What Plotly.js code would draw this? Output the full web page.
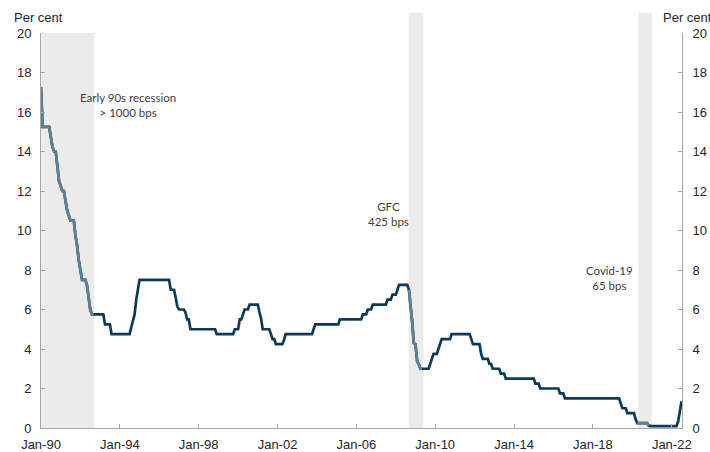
<!DOCTYPE html>
<html>
<head>
<meta charset="utf-8">
<script src="https://cdn.plot.ly/plotly-3.0.1.min.js"></script>
<style>html,body{margin:0;padding:0;background:#fff;}#chart{width:710px;height:452px;}</style>
</head>
<body>
<div id="chart"></div>
<script>
// Monthly cash rate, per cent, Jan-1990 .. Jul-2022
const startYear = 1990;
const cashRate = [
  17.25,15.25,15.25,15.25,15.25,15.25,14.75,14.25,14.0,14.0,13.25,12.5,   // 1990
  12.25,12.0,12.0,11.5,11.0,10.75,10.5,10.5,10.5,9.75,9.25,8.5,           // 1991
  8.0,7.5,7.5,7.5,7.25,6.5,6.0,5.75,5.75,5.75,5.75,5.75,                  // 1992
  5.75,5.75,5.75,5.25,5.25,5.25,5.25,4.75,4.75,4.75,4.75,4.75,            // 1993
  4.75,4.75,4.75,4.75,4.75,4.75,4.75,5.1,5.5,5.75,6.5,7.1,                // 1994
  7.5,7.5,7.5,7.5,7.5,7.5,7.5,7.5,7.5,7.5,7.5,7.5,                        // 1995
  7.5,7.5,7.5,7.5,7.5,7.5,7.5,7.0,7.0,7.0,6.6,6.15,                       // 1996
  6.0,6.0,6.0,6.0,5.85,5.5,5.5,5.0,5.0,5.0,5.0,5.0,                       // 1997
  5.0,5.0,5.0,5.0,5.0,5.0,5.0,5.0,5.0,5.0,5.0,4.75,                       // 1998
  4.75,4.75,4.75,4.75,4.75,4.75,4.75,4.75,4.75,4.75,5.0,5.0,              // 1999
  5.0,5.5,5.5,5.75,6.0,6.0,6.0,6.25,6.25,6.25,6.25,6.25,                  // 2000
  6.25,5.85,5.55,5.0,5.0,5.0,5.0,5.0,4.75,4.5,4.5,4.25,                   // 2001
  4.25,4.25,4.25,4.25,4.45,4.75,4.75,4.75,4.75,4.75,4.75,4.75,            // 2002
  4.75,4.75,4.75,4.75,4.75,4.75,4.75,4.75,4.75,4.75,5.0,5.25,             // 2003
  5.25,5.25,5.25,5.25,5.25,5.25,5.25,5.25,5.25,5.25,5.25,5.25,            // 2004
  5.25,5.25,5.5,5.5,5.5,5.5,5.5,5.5,5.5,5.5,5.5,5.5,                      // 2005
  5.5,5.5,5.5,5.5,5.75,5.75,5.75,6.0,6.0,6.0,6.25,6.25,                   // 2006
  6.25,6.25,6.25,6.25,6.25,6.25,6.25,6.5,6.5,6.5,6.75,6.75,               // 2007
  6.75,7.0,7.25,7.25,7.25,7.25,7.25,7.25,7.0,6.25,5.35,4.3,               // 2008
  4.25,3.35,3.25,3.0,3.0,3.0,3.0,3.0,3.0,3.25,3.5,3.75,                   // 2009
  3.75,3.75,4.0,4.25,4.5,4.5,4.5,4.5,4.5,4.5,4.75,4.75,                   // 2010
  4.75,4.75,4.75,4.75,4.75,4.75,4.75,4.75,4.75,4.75,4.5,4.25,             // 2011
  4.25,4.25,4.25,4.25,3.75,3.5,3.5,3.5,3.5,3.25,3.25,3.0,                 // 2012
  3.0,3.0,3.0,3.0,2.75,2.75,2.75,2.5,2.5,2.5,2.5,2.5,                     // 2013
  2.5,2.5,2.5,2.5,2.5,2.5,2.5,2.5,2.5,2.5,2.5,2.5,                        // 2014
  2.5,2.25,2.25,2.25,2.0,2.0,2.0,2.0,2.0,2.0,2.0,2.0,                     // 2015
  2.0,2.0,2.0,2.0,1.75,1.75,1.75,1.5,1.5,1.5,1.5,1.5,                     // 2016
  1.5,1.5,1.5,1.5,1.5,1.5,1.5,1.5,1.5,1.5,1.5,1.5,                        // 2017
  1.5,1.5,1.5,1.5,1.5,1.5,1.5,1.5,1.5,1.5,1.5,1.5,                        // 2018
  1.5,1.5,1.5,1.5,1.5,1.25,1.0,1.0,1.0,0.75,0.75,0.75,                    // 2019
  0.75,0.75,0.45,0.25,0.25,0.25,0.25,0.25,0.25,0.25,0.12,0.1,             // 2020
  0.1,0.1,0.1,0.1,0.1,0.1,0.1,0.1,0.1,0.1,0.1,0.1,                        // 2021
  0.1,0.1,0.1,0.1,0.35,0.85,1.35                                          // 2022
];

// Recession shading periods
const recessionStart = ['1990-01-01', '2008-08-25', '2020-04-20'];
const recessionEnd   = ['1992-09-15', '2009-05-28', '2020-12-25'];
// Months of the line drawn in the lighter colour
const lightFrom = ['1990-01-01', '2008-09-01', '2020-04-01'];
const lightTo   = ['1992-09-01', '2009-05-01', '2020-11-01'];

const recessionLabels = ['Early 90s recession<br>> 1000 bps', 'GFC<br>425 bps', 'Covid-19<br>65 bps'];
const labelX = ['1994-05-28', '2007-08-12', '2018-10-28'];
const labelY = [16.33, 10.86, 7.59];

function pad(n){ return n < 10 ? '0' + n : '' + n; }
const dates = cashRate.map((v, i) => (startYear + Math.floor(i / 12)) + '-' + pad(i % 12 + 1) + '-01');

const DARK = '#0c3a5b';
const LIGHT = '#5e8095';
const FONT = 'Arial, Liberation Sans, sans-serif';

const traces = [{
  x: dates, y: cashRate, type: 'scatter', mode: 'lines',
  line: {color: DARK, width: 2.7}, hoverinfo: 'skip', showlegend: false
}];
for (let k = 0; k < lightFrom.length; k++) {
  const xs = [], ys = [];
  dates.forEach((d, i) => { if (d >= lightFrom[k] && d <= lightTo[k]) { xs.push(d); ys.push(cashRate[i]); } });
  traces.push({x: xs, y: ys, type: 'scatter', mode: 'lines',
    line: {color: LIGHT, width: 2.7}, hoverinfo: 'skip', showlegend: false});
}
// invisible copy to activate right axis
traces.push({x: dates, y: cashRate, yaxis: 'y2', type: 'scatter', mode: 'lines',
  line: {color: 'rgba(0,0,0,0)', width: 0}, hoverinfo: 'skip', showlegend: false});

const shapes = recessionStart.map((s, k) => ({
  type: 'rect', xref: 'x', yref: 'paper', x0: s, x1: recessionEnd[k],
  y0: 0, y1: k === 0 ? 1 : 1.051, fillcolor: '#ebebeb', line: {width: 0}, layer: 'below'
}));

const annotations = recessionLabels.map((t, k) => ({
  text: t, xref: 'x', yref: 'y', x: labelX[k], y: labelY[k], showarrow: false,
  xanchor: 'center', yanchor: 'middle', align: 'center',
  font: {family: 'Lato, Carlito, Calibri, sans-serif', size: 11.5, color: '#404040'}
}));
annotations.push({text: 'Per cent', xref: 'paper', yref: 'paper', x: -0.045, y: 1.038,
  xanchor: 'left', yanchor: 'middle', showarrow: false, font: {family: FONT, size: 13, color: '#262626'}});
annotations.push({text: 'Per cent', xref: 'paper', yref: 'paper', x: 0.967, y: 1.038,
  xanchor: 'left', yanchor: 'middle', showarrow: false, font: {family: FONT, size: 13, color: '#262626'}});

const axisCommon = {
  showgrid: false, zeroline: false, showline: true, linecolor: '#a6a6a6', linewidth: 1,
  ticks: 'inside', ticklen: 4, tickcolor: '#a6a6a6', tickfont: {family: FONT, size: 13, color: '#262626'}
};

const layout = {
  width: 710, height: 452,
  margin: {l: 41, r: 28, t: 33, b: 24},
  paper_bgcolor: '#fff', plot_bgcolor: '#fff',
  showlegend: false,
  xaxis: Object.assign({}, axisCommon, {
    type: 'date', range: ['1990-01-01', '2022-07-10'],
    tickmode: 'linear', tick0: '1990-01-01', dtick: 'M48', tickformat: '%b-%y',
    ticklabelstandoff: 4
  }),
  yaxis: Object.assign({}, axisCommon, {range: [0, 20], dtick: 2, tickmode: 'linear', tick0: 0,
    ticklabelstandoff: 6}),
  yaxis2: Object.assign({}, axisCommon, {range: [0, 20], dtick: 2, tickmode: 'linear', tick0: 0,
    overlaying: 'y', side: 'right', ticklabelstandoff: 7}),
  shapes: shapes,
  annotations: annotations
};

Plotly.newPlot('chart', traces, layout, {displayModeBar: false, staticPlot: true});
</script>
</body>
</html>
